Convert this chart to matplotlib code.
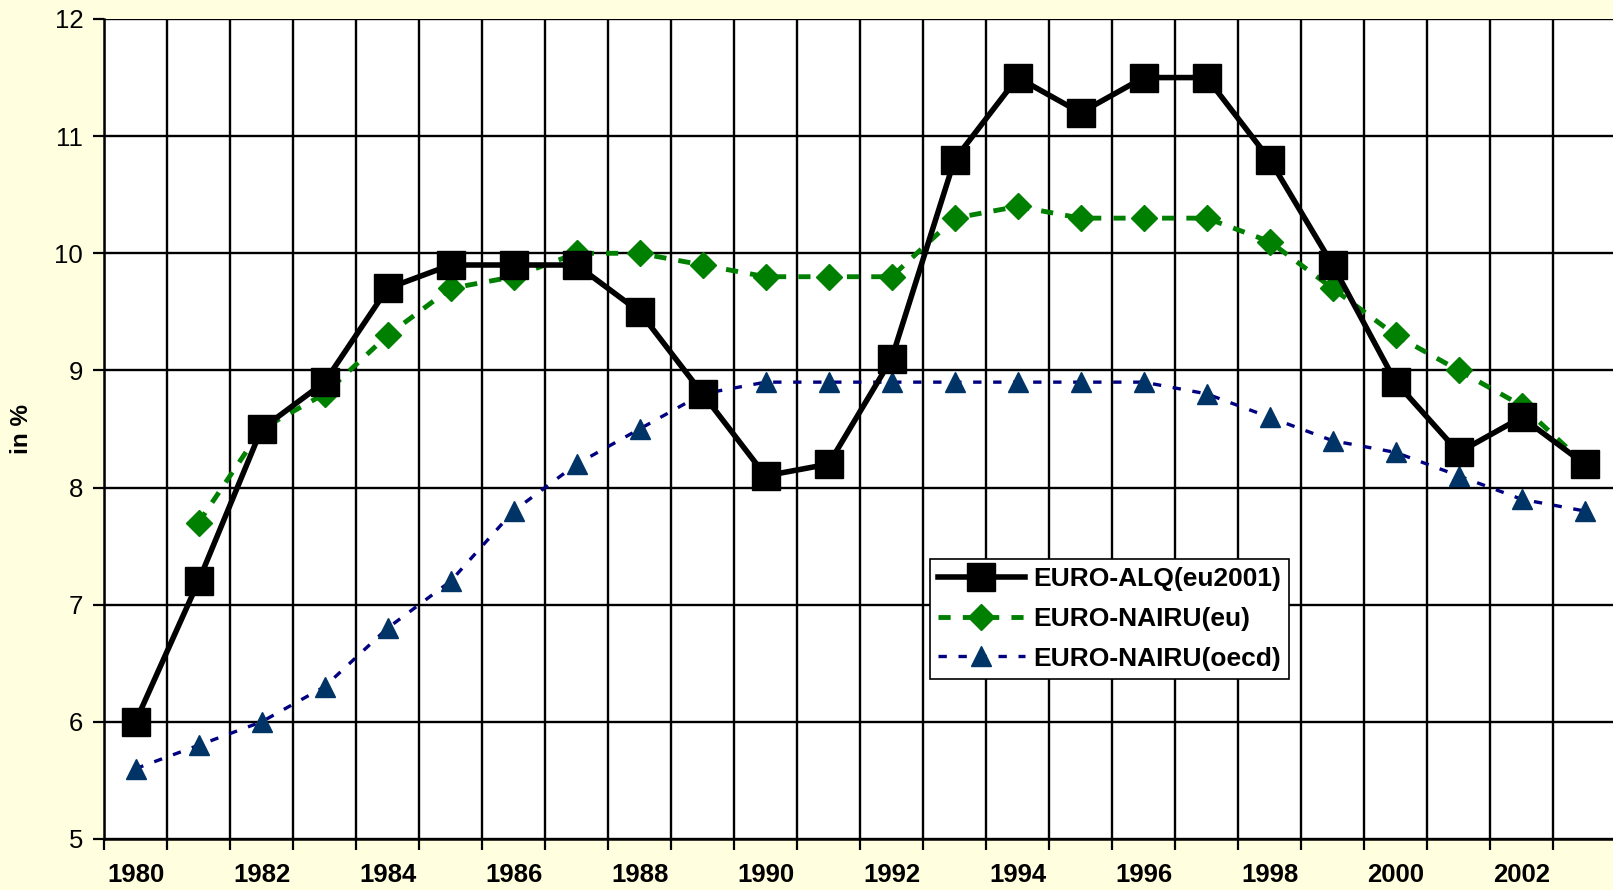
import matplotlib.pyplot as plt
import numpy as np

plt.rcParams['font.family'] = ['Liberation Sans', 'DejaVu Sans']

years = list(range(1980, 2004))
alq_eu2001 = [6.0, 7.2, 8.5, 8.9, 9.7, 9.9, 9.9, 9.9, 9.5, 8.8, 8.1, 8.2,
              9.1, 10.8, 11.5, 11.2, 11.5, 11.5, 10.8, 9.9, 8.9, 8.3, 8.6, 8.2]
nairu_eu = [np.nan, 7.7, 8.5, 8.8, 9.3, 9.7, 9.8, 10.0, 10.0, 9.9, 9.8, 9.8,
            9.8, 10.3, 10.4, 10.3, 10.3, 10.3, 10.1, 9.7, 9.3, 9.0, 8.7, 8.2]
nairu_oecd = [5.6, 5.8, 6.0, 6.3, 6.8, 7.2, 7.8, 8.2, 8.5, 8.8, 8.9, 8.9,
              8.9, 8.9, 8.9, 8.9, 8.9, 8.8, 8.6, 8.4, 8.3, 8.1, 7.9, 7.8]
labels = ['EURO-ALQ(eu2001)', 'EURO-NAIRU(eu)', 'EURO-NAIRU(oecd)']

bg = '#FFFFE0'
fig = plt.figure(figsize=(16.13, 8.90), dpi=100, facecolor=bg)
ax = fig.add_axes([104 / 1613, 1 - 839 / 890, 1 - 104 / 1613 + 0.002, (839 - 19) / 890])
ax.set_facecolor('white')

x = np.arange(len(years))
ax.plot(x, nairu_oecd, color='#000080', lw=2.4, dashes=(2.5, 3.5), marker='^',
        markersize=15, markerfacecolor='#003366', markeredgecolor='#003366',
        label=labels[2], zorder=3)
ax.plot(x, nairu_eu, color='#008000', lw=3.5, dashes=(2.5, 2.5), marker='D',
        markersize=13, markerfacecolor='#008000', markeredgecolor='#008000',
        label=labels[1], zorder=4)
ax.plot(x, alq_eu2001, color='black', lw=4, marker='s', markersize=20,
        markerfacecolor='black', label=labels[0], zorder=5)

ax.set_xlim(-0.5, len(years) - 0.5)
ax.set_ylim(5, 12)
ax.set_yticks(range(5, 13))
ax.set_xticks(x[::2])
ax.set_xticklabels([str(y) for y in years[::2]], fontweight='bold', fontsize=18.5)
ax.set_xticks(np.arange(-0.5, len(years)), minor=True)
ax.tick_params(axis='x', which='major', length=0, pad=17)
ax.tick_params(axis='x', which='minor', length=8, width=1.6, direction='out')
ax.tick_params(axis='y', length=8, width=1.6, labelsize=18.5, pad=7)

ax.grid(axis='y', which='major', color='black', lw=1.7)
ax.grid(axis='x', which='minor', color='black', lw=1.7)
ax.set_axisbelow(True)
for s in ['top', 'right']:
    ax.spines[s].set_visible(False)
for s in ['left', 'bottom']:
    ax.spines[s].set_linewidth(1.8)

fig.text(22 / 1613, 1 - 429 / 890, 'in %', rotation=90, fontweight='bold',
         fontsize=17.5, ha='center', va='center')

handles, labs = ax.get_legend_handles_labels()
order = [2, 1, 0]
leg = ax.legend([handles[i] for i in order], [labs[i] for i in order],
                loc='upper left', bbox_to_anchor=(930 / 1613, 1 - 559 / 890),
                bbox_transform=fig.transFigure, prop={'weight': 'bold', 'size': 19},
                frameon=True, fancybox=False, edgecolor='black', framealpha=1,
                handlelength=3.3, labelspacing=0.6, borderpad=0.3,
                handletextpad=0.3, borderaxespad=0)
leg.get_frame().set_linewidth(1.2)

fig.savefig('out.png', dpi=100, facecolor=bg)
